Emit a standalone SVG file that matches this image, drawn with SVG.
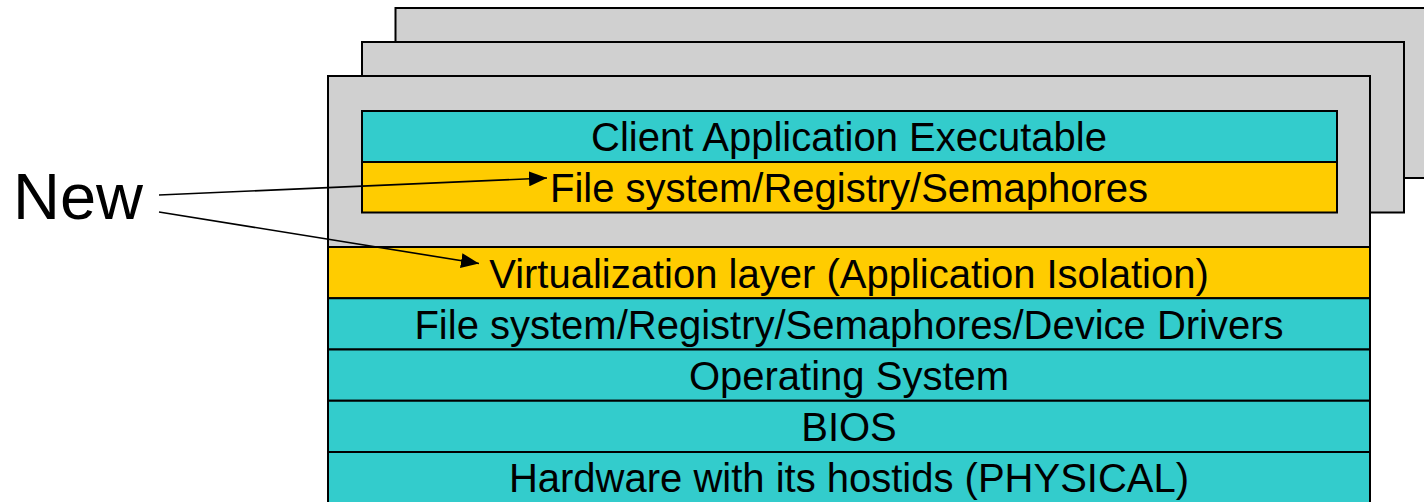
<svg xmlns="http://www.w3.org/2000/svg" width="1424" height="502" viewBox="0 0 1424 502">
<style>
.panel{fill:#D0D0D0;stroke:#000;stroke-width:2}
.cyan{fill:#33CCCC;stroke:#000;stroke-width:2}
.yellow{fill:#FFCC00;stroke:#000;stroke-width:2}
.lbl{font-family:"Liberation Sans",Arial,sans-serif;font-size:40px;fill:#000;text-anchor:middle}
.big{font-family:"Liberation Sans",Arial,sans-serif;font-size:65px;fill:#000}
.conn{stroke:#000;stroke-width:1.6;fill:none;marker-end:url(#arr)}
</style>
<defs>
<marker id="arr" markerUnits="userSpaceOnUse" markerWidth="19" markerHeight="15" refX="18" refY="7.5" orient="auto">
<path d="M0,0 L18,7.5 L0,15 Z" fill="#000"/>
</marker>
</defs>
<g id="panel-back"><rect class="panel" x="395.5" y="8" width="1040" height="170"/></g>
<g id="panel-mid"><rect class="panel" x="362" y="42" width="1042" height="170.5"/></g>
<g id="panel-front"><rect class="panel" x="328" y="76" width="1042" height="171"/></g>
<g id="client-app"><rect class="cyan" x="362" y="111" width="975" height="51"/><text class="lbl" x="849" y="151">Client Application Executable</text></g>
<g id="app-fs"><rect class="yellow" x="362" y="162" width="975" height="50.5"/><text class="lbl" x="849" y="201.5">File system/Registry/Semaphores</text></g>
<g id="virt"><rect class="yellow" x="328" y="247" width="1042" height="51.25"/><text class="lbl" x="849" y="287.5">Virtualization layer (Application Isolation)</text></g>
<g id="host-fs"><rect class="cyan" x="328" y="298.25" width="1042" height="51.25"/><text class="lbl" x="849" y="338.5">File system/Registry/Semaphores/Device Drivers</text></g>
<g id="os"><rect class="cyan" x="328" y="349.5" width="1042" height="51.25"/><text class="lbl" x="849" y="389.5">Operating System</text></g>
<g id="bios"><rect class="cyan" x="328" y="400.75" width="1042" height="51.25"/><text class="lbl" x="849" y="441">BIOS</text></g>
<g id="hardware"><rect class="cyan" x="328" y="452" width="1042" height="52"/><text class="lbl" x="849" y="492">Hardware with its hostids (PHYSICAL)</text></g>
<g id="new"><text class="big" x="13" y="218.5">New</text></g>
<g id="connectors">
<line class="conn" x1="159" y1="195" x2="547" y2="178"/>
<line class="conn" x1="159" y1="212" x2="479" y2="263.5"/>
</g>
</svg>
